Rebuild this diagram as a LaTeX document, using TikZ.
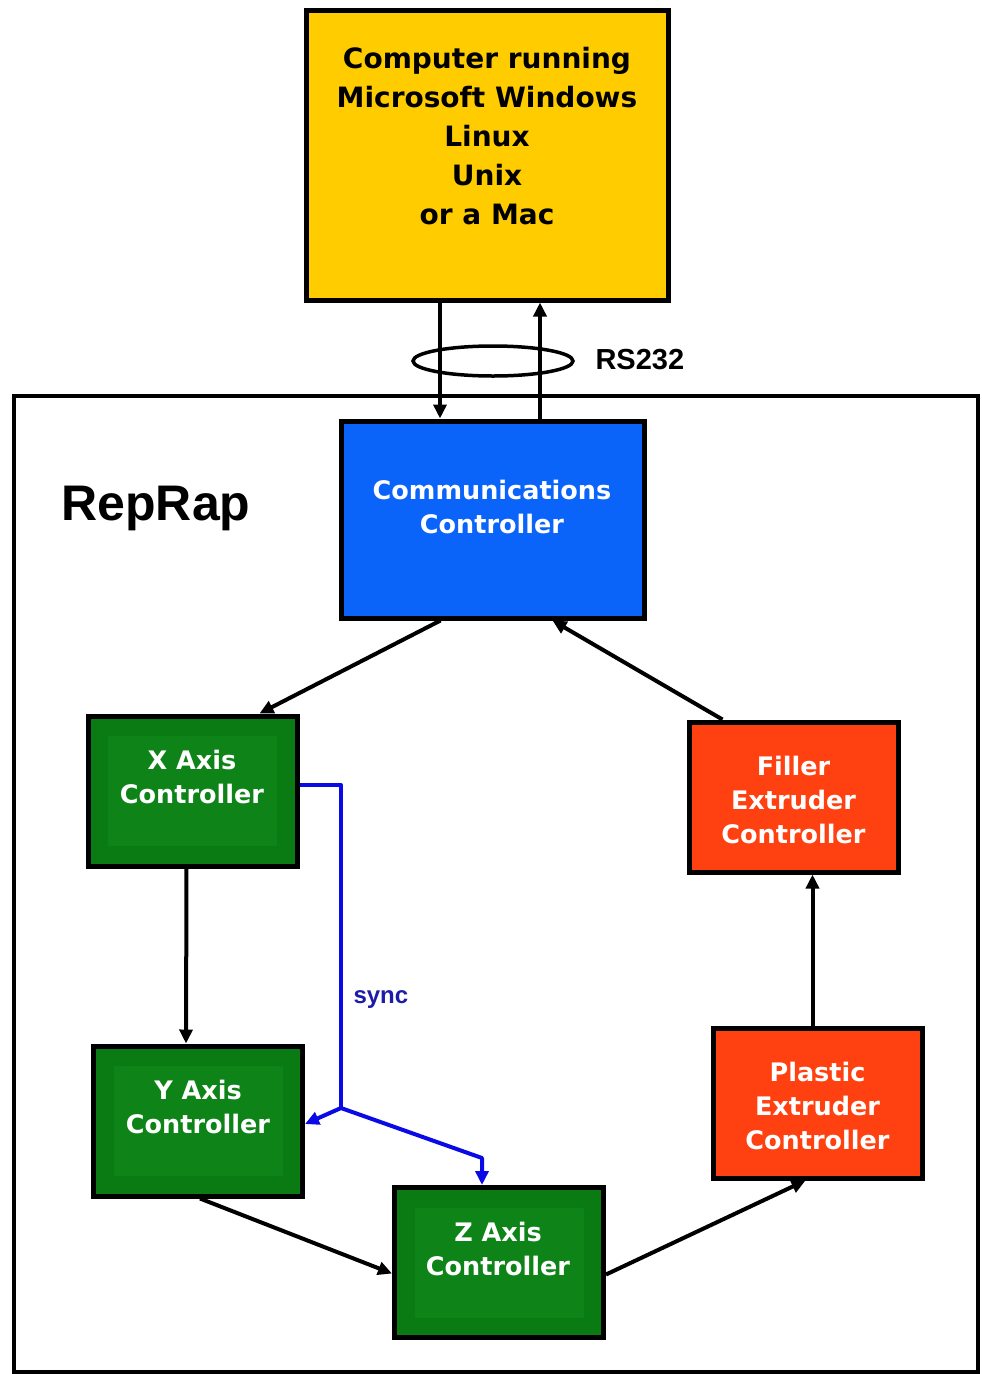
\documentclass[tikz,border=0pt]{standalone}
\usepackage{fontspec}
\setmainfont{DejaVu Sans}
\newfontfamily\arialfont{Liberation Sans}
\usetikzlibrary{shapes.geometric,arrows.meta,calc}
\definecolor{cyellow}{HTML}{FFCC00}
\definecolor{cblue}{HTML}{0A64FA}
\definecolor{cgreen}{HTML}{0A7A12}
\definecolor{cgreenin}{HTML}{0E8418}
\definecolor{cred}{HTML}{FF4010}
\definecolor{csync}{HTML}{0A0AE6}
\definecolor{csynctxt}{HTML}{1C1CA8}
\tikzset{
  box/.style={draw=black, line width=5pt, rectangle, inner sep=0pt, align=center,
    font=\fontsize{25.5}{34}\selectfont\bfseries, text=white},
  boxtext/.style={font=\fontsize{25.5}{34}\selectfont\bfseries, text=white, align=center},
  greenbox/.style={box, fill=cgreen, minimum width=209pt, minimum height=150pt,
    path picture={\fill[cgreenin] ([xshift=20pt,yshift=-20pt]path picture bounding box.north west) rectangle ([xshift=-20pt,yshift=20pt]path picture bounding box.south east);}},
  redbox/.style={box, fill=cred, minimum width=209pt, minimum height=150pt},
  arr/.style={line width=4pt, -{Triangle[length=14pt,width=13pt]}},
  syncarr/.style={line width=4pt, draw=csync, -{Triangle[length=14pt,width=13pt]}},
}
\begin{document}
\begin{tikzpicture}[x=1pt,y=-1pt]
\useasboundingbox (0,0) rectangle (982,1374);
% outer RepRap frame
\draw[line width=3.5pt] (14,396) rectangle (978,1372);
\node[font=\arialfont\fontsize{50}{50}\selectfont\bfseries, anchor=center] (title) at (156,508) {RepRap};

% computer
\node[box, fill=cyellow, minimum width=362pt, minimum height=290pt] (computer) at (487,155) {};
\node[font=\fontsize{28}{39}\selectfont\bfseries, text=black, align=center] (comptxt) at (487,136)
  {Computer running\\Microsoft Windows\\Linux\\Unix\\or a Mac};

% communications controller
\node[box, fill=cblue, minimum width=303pt, minimum height=197pt] (comm) at (492.5,519.5) {};
\node[boxtext] (commtxt) at (492,507) {Communications\\Controller};

% green boxes
\node[greenbox] (xax) at (192.5,791) {};
\node[boxtext] (xtxt) at (192,777) {X Axis\\Controller};
\node[greenbox] (yax) at (198,1121) {};
\node[boxtext] (ytxt) at (198,1107) {Y Axis\\Controller};
\node[greenbox] (zax) at (499,1262.5) {};
\node[boxtext] (ztxt) at (498,1249) {Z Axis\\Controller};

% red boxes
\node[redbox] (filler) at (793.5,797) {};
\node[boxtext] (filltxt) at (793.5,800) {Filler\\Extruder\\Controller};
\node[redbox] (plastic) at (817.5,1103) {};
\node[boxtext] (plasttxt) at (817.5,1106) {Plastic\\Extruder\\Controller};

% RS232 link
\coordinate (tdown) at (440,0);
\coordinate (tup) at (540,0);
\draw[arr] (computer.south -| tdown) -- (comm.north -| tdown);
\draw[arr] (comm.north -| tup) -- (computer.south -| tup);
\node[ellipse, draw, line width=3.5pt, minimum width=160pt, minimum height=30pt, inner sep=0pt] (rs) at (493,361) {};
\node[font=\arialfont\fontsize{29}{29}\selectfont\bfseries, anchor=west] (rstxt) at (592,360) {RS232};

% control loop
\draw[arr] ([xshift=-52pt]comm.south) -- ([xshift=67pt]xax.north);
\draw[arr] ([xshift=-71pt]filler.north) -- ([xshift=60pt]comm.south);
\draw[arr] ([xshift=-6pt]xax.south) -- ([xshift=-12pt]yax.north);
\draw[arr] ([xshift=2pt]yax.south) -- ([yshift=-11pt]zax.west);
\draw[arr] ([yshift=-12pt]zax.east) -- ([xshift=-12pt]plastic.south);
\draw[arr] ([xshift=-5pt]plastic.north) -- ([xshift=19pt]filler.south);

% sync
\coordinate (sx) at (341,785);
\coordinate (sj) at (341,1108);
\coordinate (sk) at (482,1158);
\draw[line width=4pt, draw=csync, line join=round] ([yshift=6pt]xax.east) -- (sx) -- (sj);
\draw[syncarr] (sj) -- ([yshift=-3pt]yax.east);
\draw[syncarr, line join=round] (sj) -- (sk) -- (sk |- zax.north);
\node[font=\arialfont\fontsize{24}{24}\selectfont\bfseries, text=csynctxt, anchor=west] (synctxt) at (350,1000) {sync};
\end{tikzpicture}
\end{document}
